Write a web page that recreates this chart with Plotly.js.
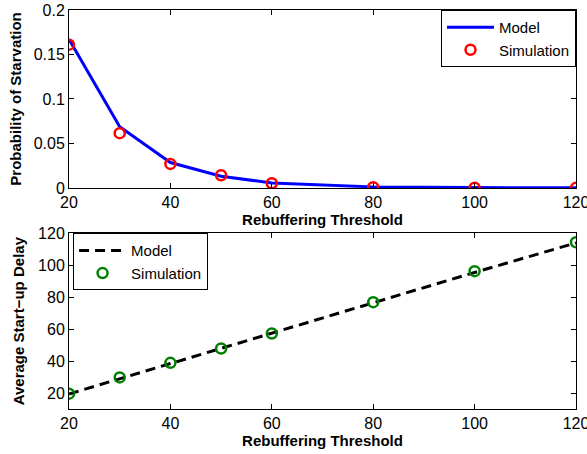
<!DOCTYPE html>
<html>
<head>
<meta charset="utf-8">
<script src="https://cdn.plot.ly/plotly-3.0.1.min.js"></script>
<style>html,body{margin:0;padding:0;background:#fff;}#chart{width:587px;height:454px;}</style>
</head>
<body>
<div id="chart"></div>
<script>
// Data
const thresholds = [20, 30, 40, 50, 60, 80, 100, 120];
const starvModel = [0.167, 0.0687, 0.0286, 0.0132, 0.0056, 0.0012, 0.0004, 0.0001];
const starvSim = [0.161, 0.0616, 0.027, 0.0143, 0.0053, 0.0008, 0.0003, 0.0001];
const delayModel = [19.4, 29.0, 38.5, 48.0, 57.5, 76.5, 95.5, 114.0];
const delaySim = [19.6, 29.8, 38.9, 47.9, 57.3, 76.9, 96.3, 114.4];
const xTicks = [20, 40, 60, 80, 100, 120];
const yTicksTop = [0, 0.05, 0.1, 0.15, 0.2];
const yTickTextTop = ['0', '0.05', '0.1', '0.15', '0.2'];
const yTicksBottom = [20, 40, 60, 80, 100, 120];

const FONT = 'Liberation Sans, Arial, Helvetica, sans-serif';
const TICKFONT = {family: FONT, size: 16, color: '#000'};
const TITLEFONT = {family: FONT, size: 15, color: '#000', weight: 'bold'};

const traces = [
  {x: thresholds, y: starvModel, name: 'Model', mode: 'lines', xaxis: 'x', yaxis: 'y',
   line: {color: '#0000ff', width: 3}, legend: 'legend'},
  {x: thresholds, y: starvSim, name: 'Simulation', mode: 'markers', xaxis: 'x', yaxis: 'y',
   marker: {symbol: 'circle-open', color: '#ff0000', size: 10, line: {width: 2.5, color: '#ff0000'}}, legend: 'legend'},
  {x: thresholds, y: delayModel, name: 'Model', mode: 'lines', xaxis: 'x2', yaxis: 'y2',
   line: {color: '#000000', width: 3, dash: '10px,6px'}, legend: 'legend2'},
  {x: thresholds, y: delaySim, name: 'Simulation', mode: 'markers', xaxis: 'x2', yaxis: 'y2',
   marker: {symbol: 'circle-open', color: '#008000', size: 10, line: {width: 2.5, color: '#008000'}}, legend: 'legend2'}
];

function xaxisDef(anchor) {
  return {
    anchor: anchor, range: [20, 120], tickvals: xTicks, ticks: 'inside', ticklen: 5,
    tickcolor: '#000', showline: true, linecolor: '#000', linewidth: 1, mirror: 'ticks',
    showgrid: false, zeroline: false, tickfont: TICKFONT, ticklabeloverflow: 'allow',
    title: {text: 'Rebuffering Threshold', font: TITLEFONT, standoff: 3},
    automargin: false, domain: [0, 1]
  };
}
function yaxisDef(anchor, domain, range) {
  return {
    domain: domain, anchor: anchor, range: range,
    ticks: 'inside', ticklen: 5, tickcolor: '#000', showline: true, linecolor: '#000', linewidth: 1,
    mirror: 'ticks', showgrid: false, zeroline: false, tickfont: TICKFONT, ticklabeloverflow: 'allow',
    automargin: false
  };
}

const yTop = yaxisDef('x', [0.554, 1], [0, 0.2]);
yTop.tickvals = yTicksTop; yTop.ticktext = yTickTextTop;
yTop.title = {text: 'Probability of Starvation', font: TITLEFONT, standoff: 8};
const yBot = yaxisDef('x2', [0, 0.4403], [10, 120]);
yBot.tickvals = yTicksBottom;
yBot.title = {text: 'Average Start\u2212up Delay', font: TITLEFONT, standoff: 9};

const legendBase = {
  xref: 'paper', yref: 'paper', bgcolor: '#fff', bordercolor: '#000', borderwidth: 1,
  font: {family: FONT, size: 15, color: '#000'}, tracegroupgap: 0, itemwidth: 47
};

const layout = {
  width: 587, height: 454,
  margin: {l: 69, r: 11, t: 10, b: 45},
  paper_bgcolor: '#fff', plot_bgcolor: '#fff',
  font: {family: FONT, color: '#000'},
  xaxis: xaxisDef('y'),
  yaxis: yTop,
  xaxis2: xaxisDef('y2'),
  yaxis2: yBot,
  legend: Object.assign({x: 1, xanchor: 'right', y: 1, yanchor: 'top'}, legendBase),
  legend2: Object.assign({x: 0.008, xanchor: 'left', y: 0.4403, yanchor: 'top'}, legendBase),
  showlegend: true
};

Plotly.newPlot('chart', traces, layout, {displayModeBar: false, staticPlot: true});
</script>
</body>
</html>
